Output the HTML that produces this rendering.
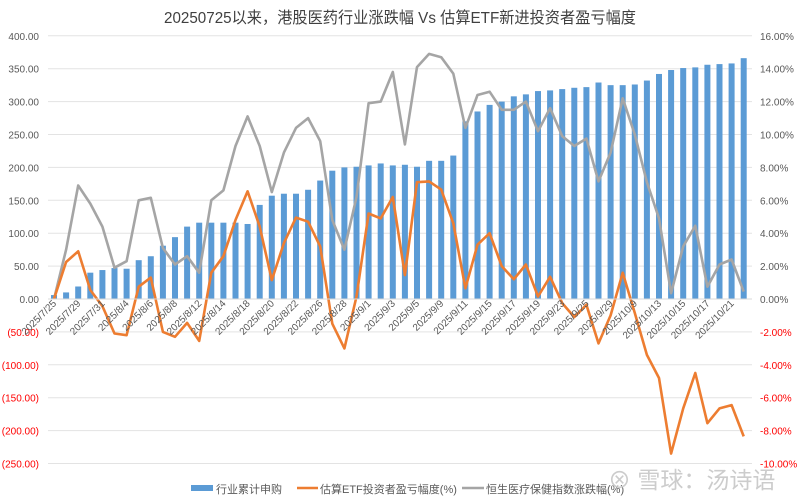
<!DOCTYPE html>
<html><head><meta charset="utf-8"><style>
html,body{margin:0;padding:0;background:#fff;}
svg{display:block;font-family:"Liberation Sans","Noto Sans CJK SC",sans-serif;}
</style></head><body>
<svg id="chart" width="800" height="500" viewBox="0 0 800 500">
<rect x="0" y="0" width="800" height="500" fill="#fff"/>
<text x="400" y="23" text-anchor="middle" font-size="16" fill="#404040" textLength="472" lengthAdjust="spacingAndGlyphs">20250725以来，港股医药行业涨跌幅 Vs 估算ETF新进投资者盈亏幅度</text>
<g id="grid"></g><g id="bars"></g><g id="lines"></g><g id="axes"></g>
<g>
<rect x="191" y="485" width="22" height="6" fill="#5b9bd5"/>
<text x="216" y="493" font-size="11" fill="#595959">行业累计申购</text>
<line x1="297" y1="488" x2="318" y2="488" stroke="#ed7d31" stroke-width="2.5"/>
<text x="320" y="493" font-size="11" fill="#595959">估算ETF投资者盈亏幅度(%)</text>
<line x1="462" y1="488" x2="484" y2="488" stroke="#a5a5a5" stroke-width="2.5"/>
<text x="486" y="493" font-size="11" fill="#595959">恒生医疗保健指数涨跌幅(%)</text>
</g>
<text x="608" y="488" font-size="23" fill="#cccccc">⊗ 雪球：汤诗语</text>
</svg>
<script>
const categories=["2025/7/25","2025/7/28","2025/7/29","2025/7/30","2025/7/31","2025/8/1","2025/8/4","2025/8/5","2025/8/6","2025/8/7","2025/8/8","2025/8/11","2025/8/12","2025/8/13","2025/8/14","2025/8/15","2025/8/18","2025/8/19","2025/8/20","2025/8/21","2025/8/22","2025/8/25","2025/8/26","2025/8/27","2025/8/28","2025/8/29","2025/9/1","2025/9/2","2025/9/3","2025/9/4","2025/9/5","2025/9/8","2025/9/9","2025/9/10","2025/9/11","2025/9/12","2025/9/15","2025/9/16","2025/9/17","2025/9/18","2025/9/19","2025/9/22","2025/9/23","2025/9/24","2025/9/25","2025/9/26","2025/9/29","2025/9/30","2025/10/9","2025/10/10","2025/10/13","2025/10/14","2025/10/15","2025/10/16","2025/10/17","2025/10/20","2025/10/21","2025/10/22"];
const subscription=[6,10,19,40,44,47,46,59,65,81,94,110,116,116,116,116,114,143,157,160,160,166,180,195,200,201,203,206,203,204,201,210,210,218,270,285,295,300,308,311,316,317,319,321,322,329,325,325,326,332,342,348,351,352,356,357,358,366];
const etfPnl=[0,2.25,2.9,0.55,-0.43,-2.1,-2.2,0.75,1.3,-2.0,-2.3,-1.45,-2.55,1.6,2.6,4.8,6.55,4.4,1.15,3.4,4.95,4.7,3.2,-1.5,-3.0,0.15,5.2,4.9,6.2,1.45,7.1,7.15,6.65,4.6,0.65,3.3,4.0,2.0,1.2,2.1,0.15,1.35,-0.25,-1.1,-0.35,-2.7,-1.0,1.6,-0.85,-3.4,-4.8,-9.4,-6.65,-4.5,-7.55,-6.65,-6.45,-8.35];
const indexChg=[0,3.0,6.9,5.8,4.4,1.9,2.3,6.0,6.15,3.1,2.1,2.6,1.6,6.0,6.6,9.3,11.1,9.3,6.5,8.9,10.4,11.0,9.6,4.8,3.0,6.2,11.9,12.0,13.8,9.4,14.1,14.9,14.7,13.7,10.4,12.4,12.6,11.5,11.5,12.0,10.2,11.6,9.9,9.3,9.75,7.15,8.9,12.2,10.0,7.1,4.9,0.35,3.2,4.45,0.75,2.1,2.4,0.45];
const leftTicks=[400,350,300,250,200,150,100,50,0,-50,-100,-150,-200,-250];
const rightTicks=[16,14,12,10,8,6,4,2,0,-2,-4,-6,-8,-10];

const NS="http://www.w3.org/2000/svg";
const plotL=48,plotR=752,y0=299,pxPer50=32.9;
const yL=v=>y0-v*pxPer50/50;
const yR=p=>y0-p*pxPer50/2;
const step=12.1,x0=54;
const xC=i=>x0+i*step;
function mk(tag,attrs,parent){const e=document.createElementNS(NS,tag);for(const k in attrs)e.setAttribute(k,attrs[k]);parent.appendChild(e);return e;}
const grid=document.getElementById('grid'),bars=document.getElementById('bars'),lines=document.getElementById('lines'),axes=document.getElementById('axes');

leftTicks.forEach(v=>{
  const y=yL(v);
  if(v!==0){const g=mk('line',{x1:plotL,x2:plotR,y1:y,y2:y,stroke:'#e3e3e3','stroke-width':1},grid);
  
  }
  const neg=v<0;
  const t=mk('text',{x:39,y:y+4,'text-anchor':'end','font-size':10,fill:neg?'#ff0000':'#595959'},axes);
  t.textContent=neg?'('+Math.abs(v).toFixed(2)+')':v.toFixed(2);
  
  
});
rightTicks.forEach(p=>{
  const t=mk('text',{x:760,y:yR(p)+4,'font-size':10,fill:p<0?'#ff0000':'#595959'},axes);
  t.textContent=p.toFixed(2)+'%';
  
  
});
subscription.forEach((v,i)=>{
  const y=yL(v);
  const r=mk('rect',{x:xC(i)-3,y:Math.min(y,y0),width:6,height:Math.abs(y0-y),fill:'#5b9bd5'},bars);
  
  
});
const ax=mk('line',{x1:plotL,x2:plotR,y1:y0,y2:y0,stroke:'#d9d9d9','stroke-width':1},axes);


function line(data,color,name){
  const d=data.map((p,i)=>(i?'L':'M')+xC(i).toFixed(1)+','+yR(p).toFixed(1)).join(' ');
  const pth=mk('path',{d:d,fill:'none',stroke:color,'stroke-width':2.6,'stroke-linejoin':'round'},lines);
  
  
}
line(indexChg,'#a5a5a5','index-change-line');
line(etfPnl,'#ed7d31','etf-pnl-line');
categories.forEach((c,i)=>{
  if(i%2)return;
  const x=xC(i)+3,y=304;
  const t=mk('text',{x:x,y:y,'text-anchor':'end','font-size':10,fill:'#595959',transform:`rotate(-45 ${x} ${y})`},axes);
  t.textContent=c;
  
  
});
</script>
</body></html>
